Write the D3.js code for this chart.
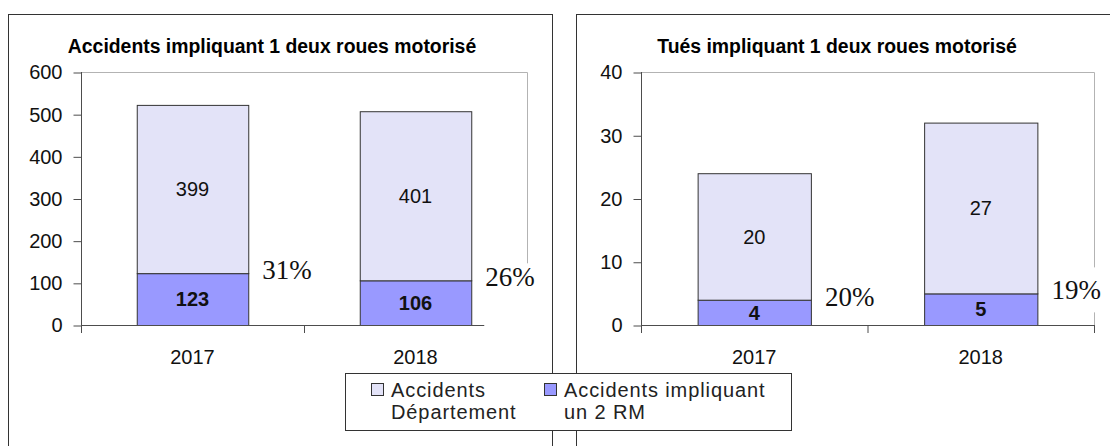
<!DOCTYPE html>
<html>
<head>
<meta charset="utf-8">
<script src="https://cdn.jsdelivr.net/npm/d3@7"></script>
<style>
  body { margin: 0; background: #fff; }
  svg { display: block; font-family: "Liberation Sans", Arial, sans-serif; }
</style>
</head>
<body>
<div id="chart"></div>
<script>
// data
const years = ["2017", "2018"];
const accidentsDept = [399, 401];
const accidents2RM = [123, 106];
const accidentsPct = ["31%", "26%"];
const accidentsTicks = [0, 100, 200, 300, 400, 500, 600];

const tuesDept = [20, 27];
const tues2RM = [4, 5];
const tuesPct = ["20%", "19%"];
const tuesTicks = [0, 10, 20, 30, 40];

const legendLabels = [["Accidents", "Département"], ["Accidents impliquant", "un 2 RM"]];

const colorDept = "#e3e3f8";
const color2RM = "#9999ff";

const W = 1110, H = 446;

const svg = d3.select("#chart")
    .append("svg")
    .attr("width", W)
    .attr("height", H);

function drawChart(opt) {
    const g = svg.append("g");

    // panel frame (runs off the bottom of the picture)
    g.append("rect")
        .attr("x", opt.panel.x + 0.5)
        .attr("y", opt.panel.y + 0.5)
        .attr("width", opt.panel.w)
        .attr("height", 600)
        .attr("fill", "#fff")
        .attr("stroke", "#333");

    g.append("text")
        .attr("x", opt.titleX)
        .attr("y", 53)
        .attr("text-anchor", "middle")
        .style("font-size", "19.4px")
        .style("font-weight", "bold")
        .text(opt.title);

    const rows = years.map((yr, i) => ({ year: yr, low: opt.low[i], high: opt.high[i], pct: opt.pct[i] }));
    const stacked = d3.stack().keys(["low", "high"])(rows);

    const x = d3.scaleBand().domain(years).range([opt.left, opt.right]).padding(0);
    const y = d3.scaleLinear().domain([0, d3.max(opt.ticks)]).range([325, 72]);
    const bw = x.bandwidth() / 2;

    // plot area border (top and right, light grey)
    g.append("path")
        .attr("d", `M${opt.left},${y(d3.max(opt.ticks)) + 0.5}H${opt.right + 0.5}V${y(0)}`)
        .attr("fill", "none")
        .attr("stroke", "#b3b3b3");

    // y axis
    const yAxis = g.append("g")
        .attr("transform", `translate(${opt.left + 0.5},0.5)`)
        .call(d3.axisLeft(y).tickValues(opt.ticks).tickSize(8).tickPadding(11));
    yAxis.select(".domain").remove();
    yAxis.selectAll("line").attr("stroke", "#4d4d4d");
    yAxis.selectAll("text")
        .style("font-size", "20px")
        .style("font-family", "Liberation Sans, Arial, sans-serif")
        .attr("fill", "#111");

    // bars
    const colors = [color2RM, colorDept];
    stacked.forEach((layer, k) => {
        g.selectAll(null)
            .data(layer)
            .enter().append("rect")
            .attr("x", d => x(d.data.year) + bw / 2 + 0.5)
            .attr("y", d => y(d[1]) + 0.5)
            .attr("width", bw)
            .attr("height", d => y(d[0]) - y(d[1]))
            .attr("fill", colors[k])
            .attr("stroke", "#333");

        g.selectAll(null)
            .data(layer)
            .enter().append("text")
            .attr("x", d => x(d.data.year) + x.bandwidth() / 2)
            .attr("y", d => (y(d[0]) + y(d[1])) / 2)
            .attr("dy", "0.36em")
            .attr("text-anchor", "middle")
            .style("font-size", "20px")
            .style("font-weight", k === 0 ? "bold" : "normal")
            .attr("fill", "#111")
            .text(d => d[1] - d[0]);
    });

    // x axis line and category boundary ticks
    g.append("line")
        .attr("x1", opt.left).attr("x2", opt.right + 1)
        .attr("y1", y(0) + 0.5).attr("y2", y(0) + 0.5)
        .attr("stroke", "#4d4d4d");
    g.append("line")
        .attr("x1", opt.left + 0.5).attr("x2", opt.left + 0.5)
        .attr("y1", y(d3.max(opt.ticks))).attr("y2", y(0) + 8)
        .attr("stroke", "#4d4d4d");
    const edges = years.map(d => x(d)).concat([opt.right]);
    g.selectAll(null)
        .data(edges.slice(1))
        .enter().append("line")
        .attr("x1", d => d + 0.5).attr("x2", d => d + 0.5)
        .attr("y1", y(0)).attr("y2", y(0) + 8)
        .attr("stroke", "#4d4d4d");

    g.selectAll(null)
        .data(years)
        .enter().append("text")
        .attr("x", d => x(d) + x.bandwidth() / 2)
        .attr("y", y(0) + 39)
        .attr("text-anchor", "middle")
        .style("font-size", "20px")
        .attr("fill", "#111")
        .text(d => d);

    // share labels in white text boxes beside each bar
    rows.forEach((r, i) => {
        const tx = x(r.year) + bw * 1.5 + 14;
        const ty = y(r.low) + 6;
        const box = opt.pctBox[i];
        g.append("rect")
            .attr("x", tx - 1)
            .attr("y", ty - box.above)
            .attr("width", 55)
            .attr("height", box.above + box.below)
            .attr("fill", "#fff");
        g.append("text")
            .attr("x", tx)
            .attr("y", ty)
            .style("font-family", "Liberation Serif, Times New Roman, serif")
            .style("font-size", "27px")
            .attr("fill", "#111")
            .text(r.pct);
    });
}

drawChart({
    title: "Accidents impliquant 1 deux roues motorisé",
    titleX: 272,
    panel: { x: 8, y: 14, w: 544 },
    left: 81, right: 527,
    low: accidents2RM, high: accidentsDept, pct: accidentsPct,
    ticks: accidentsTicks,
    pctBox: [{ above: 24, below: 10 }, { above: 23, below: 50 }]
});

drawChart({
    title: "Tués impliquant 1 deux roues motorisé",
    titleX: 837,
    panel: { x: 576, y: 14, w: 600 },
    left: 641, right: 1094,
    low: tues2RM, high: tuesDept, pct: tuesPct,
    ticks: tuesTicks,
    pctBox: [{ above: 24, below: 10 }, { above: 32, below: 13 }]
});

// legend
const legend = svg.append("g");
legend.append("rect")
    .attr("x", 345.5).attr("y", 373.5)
    .attr("width", 446).attr("height", 57)
    .attr("fill", "#fff")
    .attr("stroke", "#333");

const legendX = [371, 544];
const legendColors = [colorDept, color2RM];
legendLabels.forEach((lines, i) => {
    legend.append("rect")
        .attr("x", legendX[i] + 0.5).attr("y", 383.5)
        .attr("width", 12).attr("height", 12)
        .attr("fill", legendColors[i])
        .attr("stroke", "#333");
    lines.forEach((t, j) => {
        legend.append("text")
            .attr("x", legendX[i] + 20)
            .attr("y", 397 + j * 22)
            .style("font-size", "20px")
            .style("letter-spacing", "0.9px")
            .attr("fill", "#222")
            .text(t);
    });
});
</script>
</body>
</html>
